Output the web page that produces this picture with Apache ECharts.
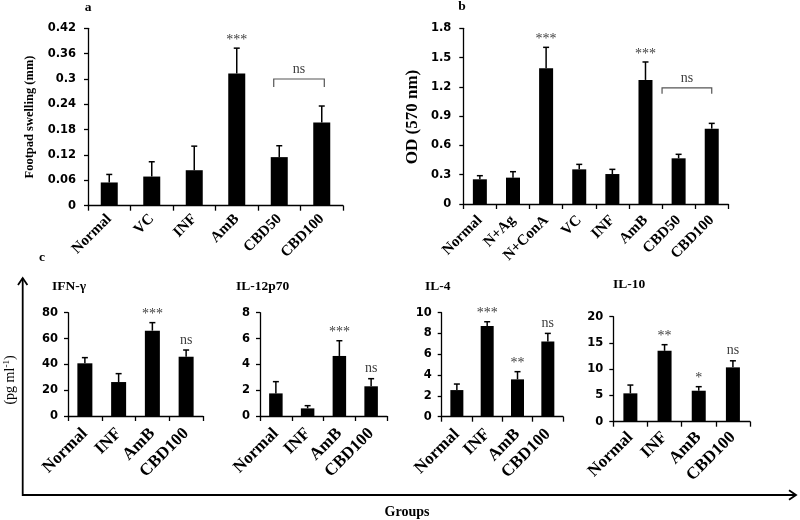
<!DOCTYPE html>
<html>
<head>
<meta charset="utf-8">
<script src="https://cdn.jsdelivr.net/npm/echarts@6/dist/echarts.min.js"></script>
<style>html,body{margin:0;padding:0;background:#fff}#c{width:800px;height:520px}</style>
</head>
<body>
<div id="c"></div>
<script>
// ---- Panel a: footpad swelling ----
const catsA = ['Normal', 'VC', 'INF', 'AmB', 'CBD50', 'CBD100'];
const valsA = [0.055, 0.069, 0.084, 0.313, 0.115, 0.197];
const sdA   = [0.019, 0.035, 0.057, 0.060, 0.027, 0.039];
const sigA  = ['', '', '', '***', '', ''];
const axisA = { max: 0.42, interval: 0.06 };
const bracketA = [4, 5, 0.30];

// ---- Panel b: OD (570 nm) ----
const catsB = ['Normal', 'N+Ag', 'N+ConA', 'VC', 'INF', 'AmB', 'CBD50', 'CBD100'];
const valsB = [0.253, 0.270, 1.390, 0.355, 0.307, 1.271, 0.468, 0.772];
const sdB   = [0.037, 0.061, 0.215, 0.051, 0.048, 0.184, 0.041, 0.054];
const sigB  = ['', '', '***', '', '', '***', '', ''];
const axisB = { max: 1.8, interval: 0.3 };
const bracketB = [6, 7, 1.19];

// ---- Panel c: cytokines ----
const catsC = ['Normal', 'INF', 'AmB', 'CBD100'];
const valsIFN = [40.8, 26.3, 66.1, 45.9];
const sdIFN   = [4.4, 6.5, 6.2, 5.2];
const sigIFN  = ['', '', '***', 'ns'];
const axisIFN = { max: 80, interval: 20 };

const valsIL12 = [1.75, 0.59, 4.65, 2.30];
const sdIL12   = [0.91, 0.21, 1.18, 0.59];
const sigIL12  = ['', '', '***', 'ns'];
const axisIL12 = { max: 8, interval: 2 };

const valsIL4 = [2.56, 8.72, 3.59, 7.24];
const sdIL4   = [0.58, 0.41, 0.74, 0.77];
const sigIL4  = ['', '***', '**', 'ns'];
const axisIL4 = { max: 10, interval: 2 };

const valsIL10 = [5.4, 13.5, 5.9, 10.35];
const sdIL10   = [1.58, 1.17, 0.77, 1.25];
const sigIL10  = ['', '**', '*', 'ns'];
const axisIL10 = { max: 20, interval: 5 };

const SERIF = '"Liberation Serif", "Times New Roman", serif';
const SANS = '"DejaVu Sans", sans-serif';

const panels = [
  { cats: catsA, vals: valsA, sd: sdA, sig: sigA, axis: axisA, bracket: bracketA,
    grid: { left: 88, top: 28.3, width: 255, height: 177.4 }, barW: 17, catFont: 15, catMargin: 11, labMargin: 12 },
  { cats: catsB, vals: valsB, sd: sdB, sig: sigB, axis: axisB, bracket: bracketB,
    grid: { left: 463.3, top: 28.3, width: 265, height: 175.7 }, barW: 14, catFont: 15, catMargin: 14, labMargin: 12 },
  { cats: catsC, vals: valsIFN, sd: sdIFN, sig: sigIFN, axis: axisIFN,
    grid: { left: 68, top: 312.7, width: 135, height: 103.3 }, barW: 15, catFont: 17, catMargin: 15, labMargin: 10 },
  { cats: catsC, vals: valsIL12, sd: sdIL12, sig: sigIL12, axis: axisIL12,
    grid: { left: 260, top: 312.7, width: 127, height: 103.3 }, barW: 13.5, catFont: 17, catMargin: 15, labMargin: 10 },
  { cats: catsC, vals: valsIL4, sd: sdIL4, sig: sigIL4, axis: axisIL4,
    grid: { left: 441.7, top: 312.7, width: 121.3, height: 104 }, barW: 13, catFont: 17, catMargin: 15, labMargin: 10 },
  { cats: catsC, vals: valsIL10, sd: sdIL10, sig: sigIL10, axis: axisIL10,
    grid: { left: 613.3, top: 316.7, width: 136.7, height: 105 }, barW: 14, catFont: 17, catMargin: 13, labMargin: 10 }
];

const grids = [], xAxes = [], yAxes = [], series = [];
panels.forEach((p, k) => {
  grids.push(Object.assign({ containLabel: false }, p.grid));
  xAxes.push({
    type: 'category', gridIndex: k, data: p.cats,
    axisLine: { lineStyle: { color: '#000', width: 1.3 } },
    axisTick: { show: true, length: 5, lineStyle: { color: '#000', width: 1.3 } },
    axisLabel: { interval: 0, rotate: 45, margin: p.catMargin, color: '#000', fontFamily: SERIF,
                 fontWeight: 'bold', fontSize: p.catFont }
  });
  yAxes.push({
    type: 'value', gridIndex: k, min: 0, max: p.axis.max, interval: p.axis.interval,
    splitLine: { show: false },
    axisLine: { show: true, lineStyle: { color: '#000', width: 1.3 } },
    axisTick: { show: true, length: 4, lineStyle: { color: '#000', width: 1.3 } },
    axisLabel: { margin: p.labMargin, color: '#000', fontFamily: SANS, fontWeight: 'bold', fontSize: 11.5 }
  });
  series.push({
    type: 'bar', xAxisIndex: k, yAxisIndex: k, data: p.vals, barWidth: p.barW,
    itemStyle: { color: '#000' }, silent: true, animation: false
  });
  const sig = p.sig;
  series.push({
    type: 'custom', xAxisIndex: k, yAxisIndex: k, animation: false, silent: true, z: 5,
    data: p.vals.map((v, i) => [i, v, p.sd[i]]),
    renderItem: function (params, api) {
      const x = api.value(0), v = api.value(1), e = api.value(2);
      const p0 = api.coord([x, v]);
      const p1 = api.coord([x, v + e]);
      const cw = 6;
      const ch = [
        { type: 'line', shape: { x1: p0[0], y1: p0[1], x2: p1[0], y2: p1[1] },
          style: { stroke: '#000', lineWidth: 1.5 } },
        { type: 'line', shape: { x1: p1[0] - cw / 2, y1: p1[1], x2: p1[0] + cw / 2, y2: p1[1] },
          style: { stroke: '#000', lineWidth: 1.5 } }
      ];
      const s = sig[params.dataIndex];
      if (s) {
        ch.push({ type: 'text', x: p1[0], y: p1[1] - (s === 'ns' ? 3 : 1),
          style: { text: s, fill: '#404040', font: '14px ' + SERIF, align: 'center', verticalAlign: 'bottom' } });
      }
      return { type: 'group', children: ch };
    }
  });
  if (p.bracket) {
    const br = p.bracket;
    series.push({
      type: 'custom', xAxisIndex: k, yAxisIndex: k, animation: false, silent: true, z: 5,
      data: [[br[0], br[1], br[2]]],
      renderItem: function (params, api) {
        const band = api.size([1, 0])[0];
        const a = api.coord([api.value(0), api.value(2)]);
        const b = api.coord([api.value(1), api.value(2)]);
        const x1 = a[0] - (k === 0 ? 0.13 : 0.5) * band;
        const x2 = b[0] + (k === 0 ? 0.06 : 0.0) * band;
        const y = a[1], leg = k === 0 ? 8 : 6;
        return { type: 'group', children: [
          { type: 'polyline', shape: { points: [[x1, y + leg], [x1, y], [x2, y], [x2, y + leg]] },
            style: { stroke: '#555', lineWidth: 1.2, fill: null } },
          { type: 'text', x: (x1 + x2) / 2, y: y - 3,
            style: { text: 'ns', fill: '#404040', font: '14px ' + SERIF, align: 'center', verticalAlign: 'bottom' } }
        ] };
      }
    });
  }
});

const titleFont = 'bold 13.5px ' + SERIF;
const graphic = [
  { type: 'text', x: 88, y: 8, style: { text: 'a', font: titleFont, fill: '#000', align: 'center', verticalAlign: 'middle' } },
  { type: 'text', x: 462, y: 7, style: { text: 'b', font: titleFont, fill: '#000', align: 'center', verticalAlign: 'middle' } },
  { type: 'text', x: 42, y: 258, style: { text: 'c', font: titleFont, fill: '#000', align: 'center', verticalAlign: 'middle' } },
  { type: 'text', x: 30, y: 117, rotation: Math.PI / 2,
    style: { text: 'Footpad swelling (mm)', font: 'bold 12.5px ' + SERIF, fill: '#000', align: 'center', verticalAlign: 'middle' } },
  { type: 'text', x: 413, y: 117, rotation: Math.PI / 2,
    style: { text: 'OD (570 nm)', font: 'bold 17px ' + SERIF, fill: '#000', align: 'center', verticalAlign: 'middle' } },
  { type: 'text', x: 52, y: 287, style: { text: 'IFN-γ', font: titleFont, fill: '#000', align: 'left', verticalAlign: 'middle' } },
  { type: 'text', x: 236, y: 287, style: { text: 'IL-12p70', font: titleFont, fill: '#000', align: 'left', verticalAlign: 'middle' } },
  { type: 'text', x: 425, y: 287, style: { text: 'IL-4', font: titleFont, fill: '#000', align: 'left', verticalAlign: 'middle' } },
  { type: 'text', x: 613, y: 285, style: { text: 'IL-10', font: titleFont, fill: '#000', align: 'left', verticalAlign: 'middle' } },
  { type: 'text', x: 10, y: 380, rotation: Math.PI / 2,
    style: { text: '{n|(pg ml}{s|-1}{n|)}', fill: '#000', align: 'center', verticalAlign: 'middle',
      rich: { n: { fontFamily: SERIF, fontSize: 14, lineHeight: 16, fill: '#000' },
              s: { fontFamily: SERIF, fontSize: 9, lineHeight: 8, verticalAlign: 'top', fill: '#000' } } } },
  { type: 'text', x: 407, y: 512, style: { text: 'Groups', font: 'bold 14px ' + SERIF, fill: '#000', align: 'center', verticalAlign: 'middle' } },
  { type: 'polyline', shape: { points: [[22.7, 278], [22.7, 495], [796, 495]] }, style: { stroke: '#000', lineWidth: 1.8, fill: null } },
  { type: 'polyline', shape: { points: [[18, 285], [22.7, 278], [27.4, 285]] }, style: { stroke: '#000', lineWidth: 1.8, fill: null } },
  { type: 'polyline', shape: { points: [[789, 490.3], [796, 495], [789, 499.7]] }, style: { stroke: '#000', lineWidth: 1.8, fill: null } }
];

const chart = echarts.init(document.getElementById('c'), null, { renderer: 'canvas' });
chart.setOption({
  animation: false,
  backgroundColor: '#fff',
  grid: grids, xAxis: xAxes, yAxis: yAxes, series: series, graphic: graphic
});
</script>
</body>
</html>
